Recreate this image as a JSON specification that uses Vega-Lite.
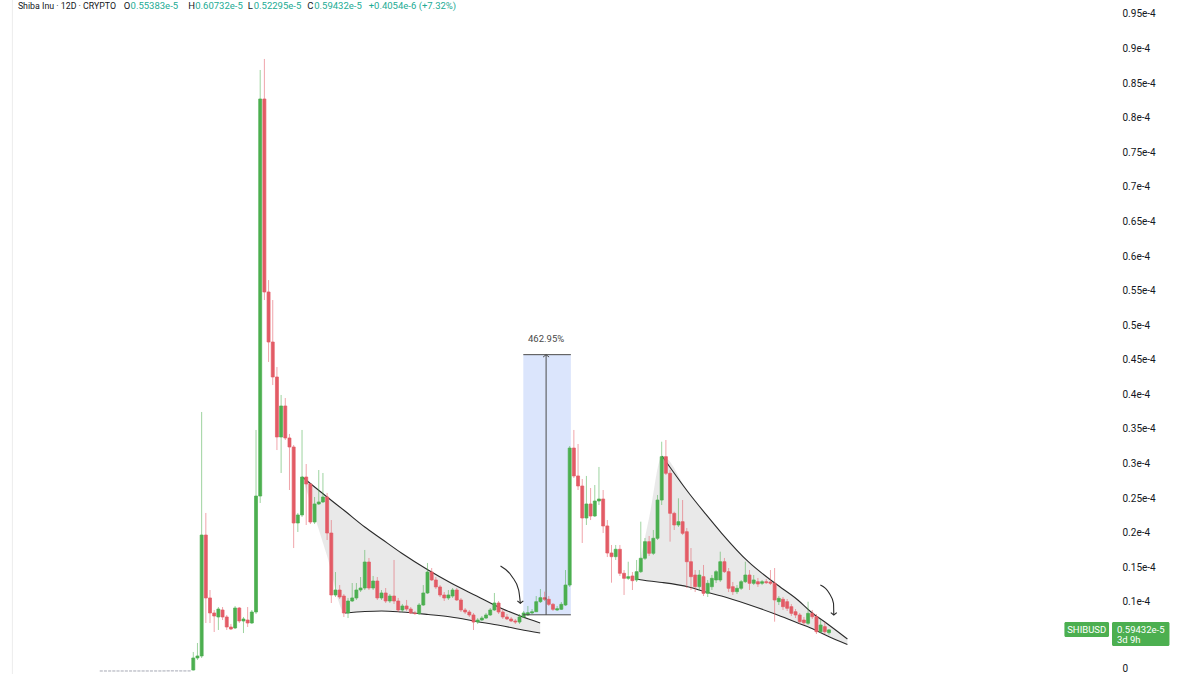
{
  "$schema": "https://vega.github.io/schema/vega-lite/v6.json",
  "width": 1115,
  "height": 674,
  "autosize": {"type": "none"},
  "padding": {"left": 0, "top": 0, "right": 85, "bottom": 0},
  "background": "#ffffff",
  "config": {"view": {"stroke": null}, "font": "Roboto", "axis": {"labelOverlap": false}},
  "data": {"values": [{}]},
  "datasets": {
    "candles": [
      {"n":-22,"o":0.0001e-5,"h":0.0002e-5,"l":0.0001e-5,"c":0.0001e-5},
      {"n":-21,"o":0.0001e-5,"h":0.0002e-5,"l":0.0001e-5,"c":0.0002e-5},
      {"n":-20,"o":0.0002e-5,"h":0.0003e-5,"l":0.0001e-5,"c":0.0002e-5},
      {"n":-19,"o":0.0002e-5,"h":0.0002e-5,"l":0.0001e-5,"c":0.0001e-5},
      {"n":-18,"o":0.0001e-5,"h":0.0002e-5,"l":0.0001e-5,"c":0.0001e-5},
      {"n":-17,"o":0.0001e-5,"h":0.0002e-5,"l":0.0001e-5,"c":0.0001e-5},
      {"n":-16,"o":0.0001e-5,"h":0.0002e-5,"l":0.0001e-5,"c":0.0002e-5},
      {"n":-15,"o":0.0002e-5,"h":0.0003e-5,"l":0.0002e-5,"c":0.0002e-5},
      {"n":-14,"o":0.0002e-5,"h":0.0003e-5,"l":0.0002e-5,"c":0.0003e-5},
      {"n":-13,"o":0.0003e-5,"h":0.0004e-5,"l":0.0002e-5,"c":0.0003e-5},
      {"n":-12,"o":0.0003e-5,"h":0.0003e-5,"l":0.0002e-5,"c":0.0002e-5},
      {"n":-11,"o":0.0002e-5,"h":0.0003e-5,"l":0.0002e-5,"c":0.0003e-5},
      {"n":-10,"o":0.0003e-5,"h":0.0004e-5,"l":0.0003e-5,"c":0.0004e-5},
      {"n":-9,"o":0.0004e-5,"h":0.0005e-5,"l":0.0003e-5,"c":0.0004e-5},
      {"n":-8,"o":0.0004e-5,"h":0.0005e-5,"l":0.0004e-5,"c":0.0005e-5},
      {"n":-7,"o":0.0005e-5,"h":0.0012e-5,"l":0.0005e-5,"c":0.0009e-5},
      {"n":-6,"o":0.0009e-5,"h":0.0035e-5,"l":0.0008e-5,"c":0.0024e-5},
      {"n":-5,"o":0.0024e-5,"h":0.0030e-5,"l":0.0015e-5,"c":0.0018e-5},
      {"n":-4,"o":0.0018e-5,"h":0.0022e-5,"l":0.0012e-5,"c":0.0014e-5},
      {"n":-3,"o":0.0014e-5,"h":0.0016e-5,"l":0.0010e-5,"c":0.0011e-5},
      {"n":-2,"o":0.0011e-5,"h":0.0013e-5,"l":0.0009e-5,"c":0.0012e-5},
      {"n":-1,"o":0.0012e-5,"h":0.0016e-5,"l":0.0011e-5,"c":0.0014e-5},
      {"n":0,"o":0.014e-5,"h":0.275e-5,"l":0.007e-5,"c":0.188e-5},
      {"n":1,"o":0.188e-5,"h":0.405e-5,"l":0.159e-5,"c":0.217e-5},
      {"n":2,"o":0.217e-5,"h":3.745e-5,"l":0.188e-5,"c":1.966e-5},
      {"n":3,"o":1.966e-5,"h":2.285e-5,"l":0.694e-5,"c":1.056e-5},
      {"n":4,"o":1.056e-5,"h":1.171e-5,"l":0.694e-5,"c":0.839e-5},
      {"n":5,"o":0.839e-5,"h":0.882e-5,"l":0.564e-5,"c":0.795e-5},
      {"n":6,"o":0.781e-5,"h":0.925e-5,"l":0.593e-5,"c":0.896e-5},
      {"n":7,"o":0.882e-5,"h":0.925e-5,"l":0.737e-5,"c":0.781e-5},
      {"n":8,"o":0.781e-5,"h":0.810e-5,"l":0.593e-5,"c":0.636e-5},
      {"n":9,"o":0.636e-5,"h":0.680e-5,"l":0.593e-5,"c":0.607e-5},
      {"n":10,"o":0.622e-5,"h":0.940e-5,"l":0.607e-5,"c":0.911e-5},
      {"n":11,"o":0.911e-5,"h":0.925e-5,"l":0.694e-5,"c":0.723e-5},
      {"n":12,"o":0.723e-5,"h":0.781e-5,"l":0.549e-5,"c":0.752e-5},
      {"n":13,"o":0.737e-5,"h":0.925e-5,"l":0.636e-5,"c":0.694e-5},
      {"n":14,"o":0.694e-5,"h":0.882e-5,"l":0.680e-5,"c":0.853e-5},
      {"n":15,"o":0.853e-5,"h":3.485e-5,"l":0.824e-5,"c":2.530e-5},
      {"n":16,"o":2.530e-5,"h":8.690e-5,"l":2.429e-5,"c":8.271e-5},
      {"n":17,"o":8.271e-5,"h":8.849e-5,"l":5.364e-5,"c":5.480e-5},
      {"n":18,"o":5.480e-5,"h":5.653e-5,"l":4.468e-5,"c":4.757e-5},
      {"n":19,"o":4.757e-5,"h":5.364e-5,"l":4.135e-5,"c":4.251e-5},
      {"n":20,"o":4.251e-5,"h":4.395e-5,"l":3.195e-5,"c":3.383e-5},
      {"n":21,"o":3.383e-5,"h":3.991e-5,"l":2.863e-5,"c":3.832e-5},
      {"n":22,"o":3.832e-5,"h":3.947e-5,"l":3.340e-5,"c":3.369e-5},
      {"n":23,"o":3.369e-5,"h":3.427e-5,"l":2.617e-5,"c":3.239e-5},
      {"n":24,"o":3.239e-5,"h":3.268e-5,"l":1.778e-5,"c":2.140e-5},
      {"n":25,"o":2.140e-5,"h":2.285e-5,"l":2.010e-5,"c":2.256e-5},
      {"n":26,"o":2.256e-5,"h":3.485e-5,"l":2.227e-5,"c":2.805e-5},
      {"n":27,"o":2.805e-5,"h":2.993e-5,"l":2.111e-5,"c":2.704e-5},
      {"n":28,"o":2.704e-5,"h":2.718e-5,"l":2.125e-5,"c":2.154e-5},
      {"n":29,"o":2.154e-5,"h":2.516e-5,"l":2.125e-5,"c":2.415e-5},
      {"n":30,"o":2.415e-5,"h":2.906e-5,"l":2.400e-5,"c":2.444e-5},
      {"n":31,"o":2.444e-5,"h":2.863e-5,"l":2.429e-5,"c":2.516e-5},
      {"n":32,"o":2.516e-5,"h":2.574e-5,"l":1.894e-5,"c":1.995e-5},
      {"n":33,"o":1.995e-5,"h":2.183e-5,"l":0.983e-5,"c":1.099e-5},
      {"n":34,"o":1.099e-5,"h":1.431e-5,"l":1.070e-5,"c":1.171e-5},
      {"n":35,"o":1.171e-5,"h":1.243e-5,"l":1.041e-5,"c":1.070e-5},
      {"n":36,"o":1.084e-5,"h":1.113e-5,"l":0.781e-5,"c":0.839e-5},
      {"n":37,"o":0.839e-5,"h":1.056e-5,"l":0.766e-5,"c":1.012e-5},
      {"n":38,"o":1.012e-5,"h":1.272e-5,"l":0.998e-5,"c":1.056e-5},
      {"n":39,"o":1.056e-5,"h":1.272e-5,"l":1.027e-5,"c":1.171e-5},
      {"n":40,"o":1.171e-5,"h":1.359e-5,"l":1.142e-5,"c":1.200e-5},
      {"n":41,"o":1.200e-5,"h":1.750e-5,"l":1.171e-5,"c":1.576e-5},
      {"n":42,"o":1.576e-5,"h":1.634e-5,"l":1.171e-5,"c":1.200e-5},
      {"n":43,"o":1.200e-5,"h":1.374e-5,"l":1.171e-5,"c":1.301e-5},
      {"n":44,"o":1.301e-5,"h":1.359e-5,"l":1.027e-5,"c":1.056e-5},
      {"n":45,"o":1.056e-5,"h":1.171e-5,"l":1.027e-5,"c":1.128e-5},
      {"n":46,"o":1.128e-5,"h":1.200e-5,"l":0.983e-5,"c":1.012e-5},
      {"n":47,"o":1.012e-5,"h":1.113e-5,"l":0.983e-5,"c":1.084e-5},
      {"n":48,"o":1.084e-5,"h":1.605e-5,"l":0.969e-5,"c":1.012e-5},
      {"n":49,"o":1.012e-5,"h":1.056e-5,"l":0.853e-5,"c":0.882e-5},
      {"n":50,"o":0.882e-5,"h":0.969e-5,"l":0.853e-5,"c":0.940e-5},
      {"n":51,"o":0.940e-5,"h":1.027e-5,"l":0.868e-5,"c":0.896e-5},
      {"n":52,"o":0.896e-5,"h":0.925e-5,"l":0.824e-5,"c":0.839e-5},
      {"n":53,"o":0.839e-5,"h":0.868e-5,"l":0.810e-5,"c":0.831e-5},
      {"n":54,"o":0.831e-5,"h":0.983e-5,"l":0.810e-5,"c":0.954e-5},
      {"n":55,"o":0.954e-5,"h":1.243e-5,"l":0.940e-5,"c":1.128e-5},
      {"n":56,"o":1.128e-5,"h":1.562e-5,"l":1.113e-5,"c":1.431e-5},
      {"n":57,"o":1.431e-5,"h":1.489e-5,"l":1.301e-5,"c":1.316e-5},
      {"n":58,"o":1.316e-5,"h":1.359e-5,"l":1.186e-5,"c":1.215e-5},
      {"n":59,"o":1.215e-5,"h":1.243e-5,"l":1.070e-5,"c":1.099e-5},
      {"n":60,"o":1.099e-5,"h":1.142e-5,"l":1.012e-5,"c":1.056e-5},
      {"n":61,"o":1.056e-5,"h":1.171e-5,"l":1.027e-5,"c":1.099e-5},
      {"n":62,"o":1.084e-5,"h":1.200e-5,"l":1.056e-5,"c":1.171e-5},
      {"n":63,"o":1.171e-5,"h":1.200e-5,"l":1.012e-5,"c":1.027e-5},
      {"n":64,"o":1.027e-5,"h":1.056e-5,"l":0.853e-5,"c":0.882e-5},
      {"n":65,"o":0.882e-5,"h":0.911e-5,"l":0.824e-5,"c":0.853e-5},
      {"n":66,"o":0.853e-5,"h":0.882e-5,"l":0.781e-5,"c":0.810e-5},
      {"n":67,"o":0.810e-5,"h":0.839e-5,"l":0.593e-5,"c":0.708e-5},
      {"n":68,"o":0.708e-5,"h":0.766e-5,"l":0.680e-5,"c":0.737e-5},
      {"n":69,"o":0.737e-5,"h":0.795e-5,"l":0.723e-5,"c":0.766e-5},
      {"n":70,"o":0.766e-5,"h":0.839e-5,"l":0.752e-5,"c":0.810e-5},
      {"n":71,"o":0.810e-5,"h":0.911e-5,"l":0.795e-5,"c":0.882e-5},
      {"n":72,"o":0.882e-5,"h":1.128e-5,"l":0.868e-5,"c":0.983e-5},
      {"n":73,"o":0.983e-5,"h":1.012e-5,"l":0.824e-5,"c":0.853e-5},
      {"n":74,"o":0.853e-5,"h":0.896e-5,"l":0.752e-5,"c":0.781e-5},
      {"n":75,"o":0.781e-5,"h":0.824e-5,"l":0.737e-5,"c":0.752e-5},
      {"n":76,"o":0.752e-5,"h":0.781e-5,"l":0.708e-5,"c":0.723e-5},
      {"n":77,"o":0.723e-5,"h":0.752e-5,"l":0.680e-5,"c":0.708e-5},
      {"n":78,"o":0.708e-5,"h":0.824e-5,"l":0.680e-5,"c":0.781e-5},
      {"n":79,"o":0.781e-5,"h":0.868e-5,"l":0.766e-5,"c":0.839e-5},
      {"n":80,"o":0.810e-5,"h":0.940e-5,"l":0.795e-5,"c":0.843e-5},
      {"n":81,"o":0.839e-5,"h":0.896e-5,"l":0.824e-5,"c":0.857e-5},
      {"n":82,"o":0.857e-5,"h":1.084e-5,"l":0.853e-5,"c":1.002e-5},
      {"n":83,"o":1.002e-5,"h":1.186e-5,"l":0.983e-5,"c":1.060e-5},
      {"n":84,"o":1.060e-5,"h":1.147e-5,"l":1.012e-5,"c":1.037e-5},
      {"n":85,"o":1.037e-5,"h":1.084e-5,"l":0.940e-5,"c":0.964e-5},
      {"n":86,"o":0.964e-5,"h":0.983e-5,"l":0.868e-5,"c":0.892e-5},
      {"n":87,"o":0.882e-5,"h":0.940e-5,"l":0.868e-5,"c":0.901e-5},
      {"n":88,"o":0.892e-5,"h":0.998e-5,"l":0.882e-5,"c":0.964e-5},
      {"n":89,"o":0.954e-5,"h":1.460e-5,"l":0.940e-5,"c":1.243e-5},
      {"n":90,"o":1.243e-5,"h":3.253e-5,"l":1.215e-5,"c":3.224e-5},
      {"n":91,"o":3.224e-5,"h":3.485e-5,"l":2.791e-5,"c":2.820e-5},
      {"n":92,"o":2.820e-5,"h":3.282e-5,"l":2.617e-5,"c":2.675e-5},
      {"n":93,"o":2.675e-5,"h":2.776e-5,"l":1.851e-5,"c":2.212e-5},
      {"n":94,"o":2.212e-5,"h":2.820e-5,"l":2.111e-5,"c":2.415e-5},
      {"n":95,"o":2.415e-5,"h":2.646e-5,"l":2.183e-5,"c":2.241e-5},
      {"n":96,"o":2.241e-5,"h":2.689e-5,"l":2.227e-5,"c":2.458e-5},
      {"n":97,"o":2.458e-5,"h":2.950e-5,"l":2.400e-5,"c":2.487e-5},
      {"n":98,"o":2.487e-5,"h":2.617e-5,"l":1.995e-5,"c":2.097e-5},
      {"n":99,"o":2.097e-5,"h":2.183e-5,"l":1.648e-5,"c":1.706e-5},
      {"n":100,"o":1.706e-5,"h":1.822e-5,"l":1.277e-5,"c":1.653e-5},
      {"n":101,"o":1.653e-5,"h":1.822e-5,"l":1.605e-5,"c":1.760e-5},
      {"n":102,"o":1.760e-5,"h":1.822e-5,"l":1.374e-5,"c":1.413e-5},
      {"n":103,"o":1.413e-5,"h":1.460e-5,"l":1.099e-5,"c":1.340e-5},
      {"n":104,"o":1.340e-5,"h":1.580e-5,"l":1.316e-5,"c":1.364e-5},
      {"n":105,"o":1.374e-5,"h":1.431e-5,"l":1.171e-5,"c":1.306e-5},
      {"n":106,"o":1.316e-5,"h":1.605e-5,"l":1.287e-5,"c":1.436e-5},
      {"n":107,"o":1.436e-5,"h":2.159e-5,"l":1.417e-5,"c":1.630e-5},
      {"n":108,"o":1.630e-5,"h":1.923e-5,"l":1.605e-5,"c":1.870e-5},
      {"n":109,"o":1.870e-5,"h":1.952e-5,"l":1.663e-5,"c":1.702e-5},
      {"n":110,"o":1.702e-5,"h":2.039e-5,"l":1.677e-5,"c":1.919e-5},
      {"n":111,"o":1.919e-5,"h":2.545e-5,"l":1.894e-5,"c":2.472e-5},
      {"n":112,"o":2.472e-5,"h":3.315e-5,"l":2.400e-5,"c":3.099e-5},
      {"n":113,"o":3.099e-5,"h":3.340e-5,"l":2.834e-5,"c":2.859e-5},
      {"n":114,"o":2.859e-5,"h":2.906e-5,"l":1.870e-5,"c":2.280e-5},
      {"n":115,"o":2.280e-5,"h":2.303e-5,"l":2.039e-5,"c":2.111e-5},
      {"n":116,"o":2.111e-5,"h":2.497e-5,"l":2.082e-5,"c":2.159e-5},
      {"n":117,"o":2.159e-5,"h":2.472e-5,"l":1.966e-5,"c":1.991e-5},
      {"n":118,"o":2.014e-5,"h":2.068e-5,"l":1.200e-5,"c":1.580e-5},
      {"n":119,"o":1.580e-5,"h":1.778e-5,"l":1.171e-5,"c":1.364e-5},
      {"n":120,"o":1.388e-5,"h":1.460e-5,"l":1.142e-5,"c":1.219e-5},
      {"n":121,"o":1.219e-5,"h":1.460e-5,"l":1.171e-5,"c":1.388e-5},
      {"n":122,"o":1.364e-5,"h":1.533e-5,"l":1.084e-5,"c":1.123e-5},
      {"n":123,"o":1.123e-5,"h":1.316e-5,"l":1.070e-5,"c":1.268e-5},
      {"n":124,"o":1.219e-5,"h":1.388e-5,"l":1.171e-5,"c":1.340e-5},
      {"n":125,"o":1.316e-5,"h":1.460e-5,"l":1.272e-5,"c":1.436e-5},
      {"n":126,"o":1.316e-5,"h":1.725e-5,"l":1.287e-5,"c":1.580e-5},
      {"n":127,"o":1.580e-5,"h":1.634e-5,"l":1.417e-5,"c":1.436e-5},
      {"n":128,"o":1.436e-5,"h":1.489e-5,"l":1.142e-5,"c":1.196e-5},
      {"n":129,"o":1.219e-5,"h":1.287e-5,"l":1.099e-5,"c":1.147e-5},
      {"n":130,"o":1.147e-5,"h":1.243e-5,"l":1.113e-5,"c":1.196e-5},
      {"n":131,"o":1.196e-5,"h":1.316e-5,"l":1.171e-5,"c":1.291e-5},
      {"n":132,"o":1.291e-5,"h":1.580e-5,"l":1.272e-5,"c":1.388e-5},
      {"n":133,"o":1.388e-5,"h":1.460e-5,"l":1.171e-5,"c":1.268e-5},
      {"n":134,"o":1.268e-5,"h":1.388e-5,"l":1.243e-5,"c":1.316e-5},
      {"n":135,"o":1.291e-5,"h":1.345e-5,"l":1.215e-5,"c":1.258e-5},
      {"n":136,"o":1.268e-5,"h":1.316e-5,"l":1.243e-5,"c":1.291e-5},
      {"n":137,"o":1.291e-5,"h":1.330e-5,"l":1.258e-5,"c":1.277e-5},
      {"n":138,"o":1.287e-5,"h":1.460e-5,"l":1.243e-5,"c":1.268e-5},
      {"n":139,"o":1.268e-5,"h":1.489e-5,"l":0.713e-5,"c":1.027e-5},
      {"n":140,"o":1.002e-5,"h":1.084e-5,"l":0.954e-5,"c":1.051e-5},
      {"n":141,"o":1.037e-5,"h":1.070e-5,"l":0.882e-5,"c":0.930e-5},
      {"n":142,"o":1.002e-5,"h":1.041e-5,"l":0.868e-5,"c":0.907e-5},
      {"n":143,"o":0.930e-5,"h":0.969e-5,"l":0.795e-5,"c":0.834e-5},
      {"n":144,"o":0.857e-5,"h":0.896e-5,"l":0.766e-5,"c":0.810e-5},
      {"n":145,"o":0.810e-5,"h":0.839e-5,"l":0.680e-5,"c":0.713e-5},
      {"n":146,"o":0.737e-5,"h":0.781e-5,"l":0.665e-5,"c":0.698e-5},
      {"n":147,"o":0.690e-5,"h":1.002e-5,"l":0.665e-5,"c":0.834e-5},
      {"n":148,"o":0.834e-5,"h":0.882e-5,"l":0.752e-5,"c":0.785e-5},
      {"n":149,"o":0.785e-5,"h":0.824e-5,"l":0.535e-5,"c":0.568e-5},
      {"n":150,"o":0.568e-5,"h":0.737e-5,"l":0.549e-5,"c":0.665e-5},
      {"n":151,"o":0.641e-5,"h":0.708e-5,"l":0.535e-5,"c":0.568e-5},
      {"n":152,"o":0.55383e-5,"h":0.60732e-5,"l":0.52295e-5,"c":0.59432e-5}
    ],
    "wedgeFill": [
      {"wedge":1,"n":26.07,"top":2.805e-5,"bottom":2.805e-5},
      {"wedge":1,"n":31.99,"top":2.516e-5,"bottom":1.663e-5},
      {"wedge":1,"n":36.26,"top":2.313e-5,"bottom":0.839e-5},
      {"wedge":1,"n":41.0,"top":2.082e-5,"bottom":0.860e-5},
      {"wedge":1,"n":45.02,"top":1.909e-5,"bottom":0.868e-5},
      {"wedge":1,"n":49.76,"top":1.706e-5,"bottom":0.853e-5},
      {"wedge":1,"n":56.16,"top":1.460e-5,"bottom":0.817e-5},
      {"wedge":1,"n":61.61,"top":1.272e-5,"bottom":0.781e-5},
      {"wedge":1,"n":67.77,"top":1.084e-5,"bottom":0.716e-5},
      {"wedge":1,"n":73.46,"top":0.911e-5,"bottom":0.658e-5},
      {"wedge":1,"n":78.2,"top":0.795e-5,"bottom":0.600e-5},
      {"wedge":1,"n":82.94,"top":0.694e-5,"bottom":0.549e-5},
      {"wedge":2,"n":105.92,"top":1.330e-5,"bottom":1.330e-5},
      {"wedge":2,"n":109.0,"top":2.219e-5,"bottom":1.301e-5},
      {"wedge":2,"n":112.09,"top":3.109e-5,"bottom":1.280e-5},
      {"wedge":2,"n":118.48,"top":2.574e-5,"bottom":1.215e-5},
      {"wedge":2,"n":122.51,"top":2.270e-5,"bottom":1.142e-5},
      {"wedge":2,"n":126.30,"top":1.995e-5,"bottom":1.084e-5},
      {"wedge":2,"n":132.70,"top":1.580e-5,"bottom":0.962e-5},
      {"wedge":2,"n":139.10,"top":1.268e-5,"bottom":0.824e-5},
      {"wedge":2,"n":144.55,"top":1.027e-5,"bottom":0.694e-5},
      {"wedge":2,"n":147.63,"top":0.857e-5,"bottom":0.622e-5},
      {"wedge":2,"n":151.66,"top":0.680e-5,"bottom":0.506e-5},
      {"wedge":2,"n":156.40,"top":0.463e-5,"bottom":0.383e-5}
    ],
    "wedgeLines": [
      {"line":"1-upper","n":26.07,"p":2.805e-5},
      {"line":"1-upper","n":31.99,"p":2.516e-5},
      {"line":"1-upper","n":36.26,"p":2.313e-5},
      {"line":"1-upper","n":41.0,"p":2.082e-5},
      {"line":"1-upper","n":45.02,"p":1.909e-5},
      {"line":"1-upper","n":49.76,"p":1.706e-5},
      {"line":"1-upper","n":56.16,"p":1.460e-5},
      {"line":"1-upper","n":61.61,"p":1.272e-5},
      {"line":"1-upper","n":67.77,"p":1.084e-5},
      {"line":"1-upper","n":73.46,"p":0.911e-5},
      {"line":"1-upper","n":78.2,"p":0.795e-5},
      {"line":"1-upper","n":82.94,"p":0.694e-5},
      {"line":"1-lower","n":36.26,"p":0.839e-5},
      {"line":"1-lower","n":41.0,"p":0.860e-5},
      {"line":"1-lower","n":45.02,"p":0.868e-5},
      {"line":"1-lower","n":49.76,"p":0.853e-5},
      {"line":"1-lower","n":56.16,"p":0.817e-5},
      {"line":"1-lower","n":61.61,"p":0.781e-5},
      {"line":"1-lower","n":67.77,"p":0.716e-5},
      {"line":"1-lower","n":73.46,"p":0.658e-5},
      {"line":"1-lower","n":78.2,"p":0.600e-5},
      {"line":"1-lower","n":82.94,"p":0.549e-5},
      {"line":"2-upper","n":112.09,"p":3.109e-5},
      {"line":"2-upper","n":118.48,"p":2.574e-5},
      {"line":"2-upper","n":122.51,"p":2.270e-5},
      {"line":"2-upper","n":126.30,"p":1.995e-5},
      {"line":"2-upper","n":132.70,"p":1.580e-5},
      {"line":"2-upper","n":139.10,"p":1.268e-5},
      {"line":"2-upper","n":144.55,"p":1.027e-5},
      {"line":"2-upper","n":147.63,"p":0.857e-5},
      {"line":"2-upper","n":151.66,"p":0.680e-5},
      {"line":"2-upper","n":156.40,"p":0.463e-5},
      {"line":"2-lower","n":105.92,"p":1.330e-5},
      {"line":"2-lower","n":109.0,"p":1.301e-5},
      {"line":"2-lower","n":112.09,"p":1.280e-5},
      {"line":"2-lower","n":118.48,"p":1.215e-5},
      {"line":"2-lower","n":122.51,"p":1.142e-5},
      {"line":"2-lower","n":126.30,"p":1.084e-5},
      {"line":"2-lower","n":132.70,"p":0.962e-5},
      {"line":"2-lower","n":139.10,"p":0.824e-5},
      {"line":"2-lower","n":144.55,"p":0.694e-5},
      {"line":"2-lower","n":147.63,"p":0.622e-5},
      {"line":"2-lower","n":151.66,"p":0.506e-5},
      {"line":"2-lower","n":156.40,"p":0.383e-5}
    ],
    "arrows": [
      {"arrow":1,"n":73.46,"p":1.518e-5},
      {"arrow":1,"n":76.23,"p":1.364e-5},
      {"arrow":1,"n":77.80,"p":1.171e-5},
      {"arrow":1,"n":78.20,"p":0.979e-5},
      {"arrow":2,"n":149.93,"p":1.243e-5},
      {"arrow":2,"n":152.06,"p":1.123e-5},
      {"arrow":2,"n":153.08,"p":0.979e-5},
      {"arrow":2,"n":153.15,"p":0.810e-5}
    ]
  },
  "layer": [
    {
      "mark": {"type": "rule", "color": "#ececec", "strokeWidth": 1},
      "encoding": {
        "x": {"datum": -43.25, "type": "quantitative", "scale": {"domain": [-45.02, 219.19], "nice": false, "zero": false}, "axis": null},
        "y": {"datum": -0.0434e-5, "type": "quantitative", "scale": {"domain": [-0.0434e-5, 9.702e-5], "nice": false, "zero": false}, "axis": {"orient": "right", "title": null, "domain": false, "ticks": false, "grid": false, "labelPadding": 7, "labelFontSize": 10, "labelColor": "#131722", "labelFont": "Roboto", "values": [0, 1e-5, 1.5e-5, 2e-5, 2.5e-5, 3e-5, 3.5e-5, 4e-5, 4.5e-5, 5e-5, 5.5e-5, 6e-5, 6.5e-5, 7e-5, 7.5e-5, 8e-5, 8.5e-5, 9e-5, 9.5e-5], "labelExpr": "datum.value == 0 ? '0' : format(datum.value * 10000, '.2~f') + 'e-4'", "labelAlign": "left", "labelBaseline": "middle", "labelOffset": {"condition": {"test": "datum.value == 0", "value": -2.5}, "value": 0}, "labelBound": false, "labelOverlap": false}},
        "y2": {"datum": 9.702e-5}
      }
    },
    {
      "data": {"name": "wedgeFill"},
      "mark": {"type": "area", "color": "#e4e4e4", "opacity": 0.8, "interpolate": "monotone"},
      "encoding": {
        "x": {"field": "n", "type": "quantitative", "scale": {"domain": [-45.02, 219.19], "nice": false, "zero": false}, "axis": null},
        "y": {"field": "top", "type": "quantitative", "scale": {"domain": [-0.0434e-5, 9.702e-5], "nice": false, "zero": false}, "axis": {"orient": "right", "title": null, "domain": false, "ticks": false, "grid": false, "labelPadding": 7, "labelFontSize": 10, "labelColor": "#131722", "labelFont": "Roboto", "values": [0, 1e-5, 1.5e-5, 2e-5, 2.5e-5, 3e-5, 3.5e-5, 4e-5, 4.5e-5, 5e-5, 5.5e-5, 6e-5, 6.5e-5, 7e-5, 7.5e-5, 8e-5, 8.5e-5, 9e-5, 9.5e-5], "labelExpr": "datum.value == 0 ? '0' : format(datum.value * 10000, '.2~f') + 'e-4'", "labelAlign": "left", "labelBaseline": "middle", "labelOffset": {"condition": {"test": "datum.value == 0", "value": -2.5}, "value": 0}, "labelBound": false, "labelOverlap": false}},
        "y2": {"field": "bottom"},
        "detail": {"field": "wedge"}
      }
    },
    {
      "mark": {"type": "rect", "color": "#dbe5fc"},
      "encoding": {
        "x": {"datum": 78.91, "type": "quantitative", "scale": {"domain": [-45.02, 219.19], "nice": false, "zero": false}, "axis": null},
        "x2": {"datum": 90.28},
        "y": {"datum": 4.5738e-5, "type": "quantitative", "scale": {"domain": [-0.0434e-5, 9.702e-5], "nice": false, "zero": false}, "axis": {"orient": "right", "title": null, "domain": false, "ticks": false, "grid": false, "labelPadding": 7, "labelFontSize": 10, "labelColor": "#131722", "labelFont": "Roboto", "values": [0, 1e-5, 1.5e-5, 2e-5, 2.5e-5, 3e-5, 3.5e-5, 4e-5, 4.5e-5, 5e-5, 5.5e-5, 6e-5, 6.5e-5, 7e-5, 7.5e-5, 8e-5, 8.5e-5, 9e-5, 9.5e-5], "labelExpr": "datum.value == 0 ? '0' : format(datum.value * 10000, '.2~f') + 'e-4'", "labelAlign": "left", "labelBaseline": "middle", "labelOffset": {"condition": {"test": "datum.value == 0", "value": -2.5}, "value": 0}, "labelBound": false, "labelOverlap": false}},
        "y2": {"datum": 0.8125e-5}
      }
    },
    {
      "data": {"name": "wedgeLines"},
      "mark": {"type": "line", "color": "#2a2a2a", "strokeWidth": 1.1, "interpolate": "monotone"},
      "encoding": {
        "x": {"field": "n", "type": "quantitative", "scale": {"domain": [-45.02, 219.19], "nice": false, "zero": false}, "axis": null},
        "y": {"field": "p", "type": "quantitative", "scale": {"domain": [-0.0434e-5, 9.702e-5], "nice": false, "zero": false}, "axis": {"orient": "right", "title": null, "domain": false, "ticks": false, "grid": false, "labelPadding": 7, "labelFontSize": 10, "labelColor": "#131722", "labelFont": "Roboto", "values": [0, 1e-5, 1.5e-5, 2e-5, 2.5e-5, 3e-5, 3.5e-5, 4e-5, 4.5e-5, 5e-5, 5.5e-5, 6e-5, 6.5e-5, 7e-5, 7.5e-5, 8e-5, 8.5e-5, 9e-5, 9.5e-5], "labelExpr": "datum.value == 0 ? '0' : format(datum.value * 10000, '.2~f') + 'e-4'", "labelAlign": "left", "labelBaseline": "middle", "labelOffset": {"condition": {"test": "datum.value == 0", "value": -2.5}, "value": 0}, "labelBound": false, "labelOverlap": false}},
        "detail": {"field": "line"}
      }
    },
    {
      "data": {"name": "candles"},
      "mark": {"type": "rule", "strokeWidth": 1, "opacity": 0.55},
      "encoding": {
        "x": {"field": "n", "type": "quantitative", "scale": {"domain": [-45.02, 219.19], "nice": false, "zero": false}, "axis": null},
        "y": {"field": "l", "type": "quantitative", "scale": {"domain": [-0.0434e-5, 9.702e-5], "nice": false, "zero": false}, "axis": {"orient": "right", "title": null, "domain": false, "ticks": false, "grid": false, "labelPadding": 7, "labelFontSize": 10, "labelColor": "#131722", "labelFont": "Roboto", "values": [0, 1e-5, 1.5e-5, 2e-5, 2.5e-5, 3e-5, 3.5e-5, 4e-5, 4.5e-5, 5e-5, 5.5e-5, 6e-5, 6.5e-5, 7e-5, 7.5e-5, 8e-5, 8.5e-5, 9e-5, 9.5e-5], "labelExpr": "datum.value == 0 ? '0' : format(datum.value * 10000, '.2~f') + 'e-4'", "labelAlign": "left", "labelBaseline": "middle", "labelOffset": {"condition": {"test": "datum.value == 0", "value": -2.5}, "value": 0}, "labelBound": false, "labelOverlap": false}},
        "y2": {"field": "h"},
        "color": {"condition": [{"test": "datum.h < 1e-7", "value": "#b2b5be"}, {"test": "datum.c >= datum.o", "value": "#4caf50"}], "value": "#e35b66"}
      }
    },
    {
      "data": {"name": "candles"},
      "mark": {"type": "bar", "size": 3, "strokeWidth": 0.7},
      "encoding": {
        "x": {"field": "n", "type": "quantitative", "scale": {"domain": [-45.02, 219.19], "nice": false, "zero": false}, "axis": null},
        "y": {"field": "o", "type": "quantitative", "scale": {"domain": [-0.0434e-5, 9.702e-5], "nice": false, "zero": false}, "axis": {"orient": "right", "title": null, "domain": false, "ticks": false, "grid": false, "labelPadding": 7, "labelFontSize": 10, "labelColor": "#131722", "labelFont": "Roboto", "values": [0, 1e-5, 1.5e-5, 2e-5, 2.5e-5, 3e-5, 3.5e-5, 4e-5, 4.5e-5, 5e-5, 5.5e-5, 6e-5, 6.5e-5, 7e-5, 7.5e-5, 8e-5, 8.5e-5, 9e-5, 9.5e-5], "labelExpr": "datum.value == 0 ? '0' : format(datum.value * 10000, '.2~f') + 'e-4'", "labelAlign": "left", "labelBaseline": "middle", "labelOffset": {"condition": {"test": "datum.value == 0", "value": -2.5}, "value": 0}, "labelBound": false, "labelOverlap": false}},
        "y2": {"field": "c"},
        "fill": {"condition": [{"test": "datum.h < 1e-7", "value": "#b2b5be"}, {"test": "datum.c >= datum.o", "value": "#4caf50"}], "value": "#e35b66"},
        "stroke": {"condition": [{"test": "datum.h < 1e-7", "value": "#b2b5be"}, {"test": "datum.c >= datum.o", "value": "#4caf50"}], "value": "#e35b66"}
      }
    },
    {
      "mark": {"type": "rule", "color": "#4a4a4a", "strokeWidth": 1},
      "encoding": {
        "x": {"datum": 78.91, "type": "quantitative", "scale": {"domain": [-45.02, 219.19], "nice": false, "zero": false}, "axis": null},
        "x2": {"datum": 90.28},
        "y": {"datum": 4.5738e-5, "type": "quantitative", "scale": {"domain": [-0.0434e-5, 9.702e-5], "nice": false, "zero": false}, "axis": {"orient": "right", "title": null, "domain": false, "ticks": false, "grid": false, "labelPadding": 7, "labelFontSize": 10, "labelColor": "#131722", "labelFont": "Roboto", "values": [0, 1e-5, 1.5e-5, 2e-5, 2.5e-5, 3e-5, 3.5e-5, 4e-5, 4.5e-5, 5e-5, 5.5e-5, 6e-5, 6.5e-5, 7e-5, 7.5e-5, 8e-5, 8.5e-5, 9e-5, 9.5e-5], "labelExpr": "datum.value == 0 ? '0' : format(datum.value * 10000, '.2~f') + 'e-4'", "labelAlign": "left", "labelBaseline": "middle", "labelOffset": {"condition": {"test": "datum.value == 0", "value": -2.5}, "value": 0}, "labelBound": false, "labelOverlap": false}}
      }
    },
    {
      "mark": {"type": "rule", "color": "#4a4a4a", "strokeWidth": 1},
      "encoding": {
        "x": {"datum": 78.91, "type": "quantitative", "scale": {"domain": [-45.02, 219.19], "nice": false, "zero": false}, "axis": null},
        "x2": {"datum": 90.28},
        "y": {"datum": 0.8125e-5, "type": "quantitative", "scale": {"domain": [-0.0434e-5, 9.702e-5], "nice": false, "zero": false}, "axis": {"orient": "right", "title": null, "domain": false, "ticks": false, "grid": false, "labelPadding": 7, "labelFontSize": 10, "labelColor": "#131722", "labelFont": "Roboto", "values": [0, 1e-5, 1.5e-5, 2e-5, 2.5e-5, 3e-5, 3.5e-5, 4e-5, 4.5e-5, 5e-5, 5.5e-5, 6e-5, 6.5e-5, 7e-5, 7.5e-5, 8e-5, 8.5e-5, 9e-5, 9.5e-5], "labelExpr": "datum.value == 0 ? '0' : format(datum.value * 10000, '.2~f') + 'e-4'", "labelAlign": "left", "labelBaseline": "middle", "labelOffset": {"condition": {"test": "datum.value == 0", "value": -2.5}, "value": 0}, "labelBound": false, "labelOverlap": false}}
      }
    },
    {
      "mark": {"type": "rule", "color": "#4a4a4a", "strokeWidth": 1},
      "encoding": {
        "x": {"datum": 84.36, "type": "quantitative", "scale": {"domain": [-45.02, 219.19], "nice": false, "zero": false}, "axis": null},
        "y": {"datum": 0.8125e-5, "type": "quantitative", "scale": {"domain": [-0.0434e-5, 9.702e-5], "nice": false, "zero": false}, "axis": {"orient": "right", "title": null, "domain": false, "ticks": false, "grid": false, "labelPadding": 7, "labelFontSize": 10, "labelColor": "#131722", "labelFont": "Roboto", "values": [0, 1e-5, 1.5e-5, 2e-5, 2.5e-5, 3e-5, 3.5e-5, 4e-5, 4.5e-5, 5e-5, 5.5e-5, 6e-5, 6.5e-5, 7e-5, 7.5e-5, 8e-5, 8.5e-5, 9e-5, 9.5e-5], "labelExpr": "datum.value == 0 ? '0' : format(datum.value * 10000, '.2~f') + 'e-4'", "labelAlign": "left", "labelBaseline": "middle", "labelOffset": {"condition": {"test": "datum.value == 0", "value": -2.5}, "value": 0}, "labelBound": false, "labelOverlap": false}},
        "y2": {"datum": 4.5738e-5}
      }
    },
    {
      "mark": {"type": "point", "shape": "M -1 0.8 L 0 0 L 1 0.8", "size": 36, "filled": false, "stroke": "#4a4a4a", "strokeWidth": 1, "opacity": 1},
      "encoding": {
        "x": {"datum": 84.36, "type": "quantitative", "scale": {"domain": [-45.02, 219.19], "nice": false, "zero": false}, "axis": null},
        "y": {"datum": 4.5738e-5, "type": "quantitative", "scale": {"domain": [-0.0434e-5, 9.702e-5], "nice": false, "zero": false}, "axis": {"orient": "right", "title": null, "domain": false, "ticks": false, "grid": false, "labelPadding": 7, "labelFontSize": 10, "labelColor": "#131722", "labelFont": "Roboto", "values": [0, 1e-5, 1.5e-5, 2e-5, 2.5e-5, 3e-5, 3.5e-5, 4e-5, 4.5e-5, 5e-5, 5.5e-5, 6e-5, 6.5e-5, 7e-5, 7.5e-5, 8e-5, 8.5e-5, 9e-5, 9.5e-5], "labelExpr": "datum.value == 0 ? '0' : format(datum.value * 10000, '.2~f') + 'e-4'", "labelAlign": "left", "labelBaseline": "middle", "labelOffset": {"condition": {"test": "datum.value == 0", "value": -2.5}, "value": 0}, "labelBound": false, "labelOverlap": false}}
      }
    },
    {
      "mark": {"type": "text", "text": "462.95%", "fontSize": 9.5, "color": "#4a4a4a", "align": "center", "baseline": "middle", "font": "Roboto"},
      "encoding": {
        "x": {"datum": 84.36, "type": "quantitative", "scale": {"domain": [-45.02, 219.19], "nice": false, "zero": false}, "axis": null},
        "y": {"datum": 4.80e-5, "type": "quantitative", "scale": {"domain": [-0.0434e-5, 9.702e-5], "nice": false, "zero": false}, "axis": {"orient": "right", "title": null, "domain": false, "ticks": false, "grid": false, "labelPadding": 7, "labelFontSize": 10, "labelColor": "#131722", "labelFont": "Roboto", "values": [0, 1e-5, 1.5e-5, 2e-5, 2.5e-5, 3e-5, 3.5e-5, 4e-5, 4.5e-5, 5e-5, 5.5e-5, 6e-5, 6.5e-5, 7e-5, 7.5e-5, 8e-5, 8.5e-5, 9e-5, 9.5e-5], "labelExpr": "datum.value == 0 ? '0' : format(datum.value * 10000, '.2~f') + 'e-4'", "labelAlign": "left", "labelBaseline": "middle", "labelOffset": {"condition": {"test": "datum.value == 0", "value": -2.5}, "value": 0}, "labelBound": false, "labelOverlap": false}}
      }
    },
    {
      "data": {"name": "arrows"},
      "mark": {"type": "line", "color": "#2a2a2a", "strokeWidth": 1.1, "interpolate": "monotone"},
      "encoding": {
        "x": {"field": "n", "type": "quantitative", "scale": {"domain": [-45.02, 219.19], "nice": false, "zero": false}, "axis": null},
        "y": {"field": "p", "type": "quantitative", "scale": {"domain": [-0.0434e-5, 9.702e-5], "nice": false, "zero": false}, "axis": {"orient": "right", "title": null, "domain": false, "ticks": false, "grid": false, "labelPadding": 7, "labelFontSize": 10, "labelColor": "#131722", "labelFont": "Roboto", "values": [0, 1e-5, 1.5e-5, 2e-5, 2.5e-5, 3e-5, 3.5e-5, 4e-5, 4.5e-5, 5e-5, 5.5e-5, 6e-5, 6.5e-5, 7e-5, 7.5e-5, 8e-5, 8.5e-5, 9e-5, 9.5e-5], "labelExpr": "datum.value == 0 ? '0' : format(datum.value * 10000, '.2~f') + 'e-4'", "labelAlign": "left", "labelBaseline": "middle", "labelOffset": {"condition": {"test": "datum.value == 0", "value": -2.5}, "value": 0}, "labelBound": false, "labelOverlap": false}},
        "detail": {"field": "arrow"}
      }
    },
    {
      "mark": {"type": "point", "shape": "M -1 -0.8 L 0 0 L 1 -0.8", "size": 36, "filled": false, "stroke": "#2a2a2a", "strokeWidth": 1.1, "opacity": 1},
      "encoding": {
        "x": {"datum": 78.2, "type": "quantitative", "scale": {"domain": [-45.02, 219.19], "nice": false, "zero": false}, "axis": null},
        "y": {"datum": 0.979e-5, "type": "quantitative", "scale": {"domain": [-0.0434e-5, 9.702e-5], "nice": false, "zero": false}, "axis": {"orient": "right", "title": null, "domain": false, "ticks": false, "grid": false, "labelPadding": 7, "labelFontSize": 10, "labelColor": "#131722", "labelFont": "Roboto", "values": [0, 1e-5, 1.5e-5, 2e-5, 2.5e-5, 3e-5, 3.5e-5, 4e-5, 4.5e-5, 5e-5, 5.5e-5, 6e-5, 6.5e-5, 7e-5, 7.5e-5, 8e-5, 8.5e-5, 9e-5, 9.5e-5], "labelExpr": "datum.value == 0 ? '0' : format(datum.value * 10000, '.2~f') + 'e-4'", "labelAlign": "left", "labelBaseline": "middle", "labelOffset": {"condition": {"test": "datum.value == 0", "value": -2.5}, "value": 0}, "labelBound": false, "labelOverlap": false}}
      }
    },
    {
      "mark": {"type": "point", "shape": "M -1 -0.8 L 0 0 L 1 -0.8", "size": 36, "filled": false, "stroke": "#2a2a2a", "strokeWidth": 1.1, "opacity": 1},
      "encoding": {
        "x": {"datum": 153.15, "type": "quantitative", "scale": {"domain": [-45.02, 219.19], "nice": false, "zero": false}, "axis": null},
        "y": {"datum": 0.810e-5, "type": "quantitative", "scale": {"domain": [-0.0434e-5, 9.702e-5], "nice": false, "zero": false}, "axis": {"orient": "right", "title": null, "domain": false, "ticks": false, "grid": false, "labelPadding": 7, "labelFontSize": 10, "labelColor": "#131722", "labelFont": "Roboto", "values": [0, 1e-5, 1.5e-5, 2e-5, 2.5e-5, 3e-5, 3.5e-5, 4e-5, 4.5e-5, 5e-5, 5.5e-5, 6e-5, 6.5e-5, 7e-5, 7.5e-5, 8e-5, 8.5e-5, 9e-5, 9.5e-5], "labelExpr": "datum.value == 0 ? '0' : format(datum.value * 10000, '.2~f') + 'e-4'", "labelAlign": "left", "labelBaseline": "middle", "labelOffset": {"condition": {"test": "datum.value == 0", "value": -2.5}, "value": 0}, "labelBound": false, "labelOverlap": false}}
      }
    },
    {
      "mark": {"type": "text", "text": "Shiba Inu · 12D · CRYPTO", "fontSize": 8.8, "color": "#131722", "align": "left", "baseline": "middle", "font": "Roboto"},
      "encoding": {
        "x": {"datum": -41.94, "type": "quantitative", "scale": {"domain": [-45.02, 219.19], "nice": false, "zero": false}, "axis": null},
        "y": {"datum": 9.62e-5, "type": "quantitative", "scale": {"domain": [-0.0434e-5, 9.702e-5], "nice": false, "zero": false}, "axis": {"orient": "right", "title": null, "domain": false, "ticks": false, "grid": false, "labelPadding": 7, "labelFontSize": 10, "labelColor": "#131722", "labelFont": "Roboto", "values": [0, 1e-5, 1.5e-5, 2e-5, 2.5e-5, 3e-5, 3.5e-5, 4e-5, 4.5e-5, 5e-5, 5.5e-5, 6e-5, 6.5e-5, 7e-5, 7.5e-5, 8e-5, 8.5e-5, 9e-5, 9.5e-5], "labelExpr": "datum.value == 0 ? '0' : format(datum.value * 10000, '.2~f') + 'e-4'", "labelAlign": "left", "labelBaseline": "middle", "labelOffset": {"condition": {"test": "datum.value == 0", "value": -2.5}, "value": 0}, "labelBound": false, "labelOverlap": false}}
      }
    },
    {
      "mark": {"type": "text", "text": "O", "fontSize": 9.5, "color": "#131722", "align": "left", "baseline": "middle", "font": "Roboto"},
      "encoding": {
        "x": {"datum": -16.6, "type": "quantitative", "scale": {"domain": [-45.02, 219.19], "nice": false, "zero": false}, "axis": null},
        "y": {"datum": 9.62e-5, "type": "quantitative", "scale": {"domain": [-0.0434e-5, 9.702e-5], "nice": false, "zero": false}, "axis": {"orient": "right", "title": null, "domain": false, "ticks": false, "grid": false, "labelPadding": 7, "labelFontSize": 10, "labelColor": "#131722", "labelFont": "Roboto", "values": [0, 1e-5, 1.5e-5, 2e-5, 2.5e-5, 3e-5, 3.5e-5, 4e-5, 4.5e-5, 5e-5, 5.5e-5, 6e-5, 6.5e-5, 7e-5, 7.5e-5, 8e-5, 8.5e-5, 9e-5, 9.5e-5], "labelExpr": "datum.value == 0 ? '0' : format(datum.value * 10000, '.2~f') + 'e-4'", "labelAlign": "left", "labelBaseline": "middle", "labelOffset": {"condition": {"test": "datum.value == 0", "value": -2.5}, "value": 0}, "labelBound": false, "labelOverlap": false}}
      }
    },
    {
      "mark": {"type": "text", "text": "0.55383e-5", "fontSize": 9.5, "color": "#22ab94", "align": "left", "baseline": "middle", "font": "Roboto"},
      "encoding": {
        "x": {"datum": -15.0, "type": "quantitative", "scale": {"domain": [-45.02, 219.19], "nice": false, "zero": false}, "axis": null},
        "y": {"datum": 9.62e-5, "type": "quantitative", "scale": {"domain": [-0.0434e-5, 9.702e-5], "nice": false, "zero": false}, "axis": {"orient": "right", "title": null, "domain": false, "ticks": false, "grid": false, "labelPadding": 7, "labelFontSize": 10, "labelColor": "#131722", "labelFont": "Roboto", "values": [0, 1e-5, 1.5e-5, 2e-5, 2.5e-5, 3e-5, 3.5e-5, 4e-5, 4.5e-5, 5e-5, 5.5e-5, 6e-5, 6.5e-5, 7e-5, 7.5e-5, 8e-5, 8.5e-5, 9e-5, 9.5e-5], "labelExpr": "datum.value == 0 ? '0' : format(datum.value * 10000, '.2~f') + 'e-4'", "labelAlign": "left", "labelBaseline": "middle", "labelOffset": {"condition": {"test": "datum.value == 0", "value": -2.5}, "value": 0}, "labelBound": false, "labelOverlap": false}}
      }
    },
    {
      "mark": {"type": "text", "text": "H", "fontSize": 9.5, "color": "#131722", "align": "left", "baseline": "middle", "font": "Roboto"},
      "encoding": {
        "x": {"datum": -1.18, "type": "quantitative", "scale": {"domain": [-45.02, 219.19], "nice": false, "zero": false}, "axis": null},
        "y": {"datum": 9.62e-5, "type": "quantitative", "scale": {"domain": [-0.0434e-5, 9.702e-5], "nice": false, "zero": false}, "axis": {"orient": "right", "title": null, "domain": false, "ticks": false, "grid": false, "labelPadding": 7, "labelFontSize": 10, "labelColor": "#131722", "labelFont": "Roboto", "values": [0, 1e-5, 1.5e-5, 2e-5, 2.5e-5, 3e-5, 3.5e-5, 4e-5, 4.5e-5, 5e-5, 5.5e-5, 6e-5, 6.5e-5, 7e-5, 7.5e-5, 8e-5, 8.5e-5, 9e-5, 9.5e-5], "labelExpr": "datum.value == 0 ? '0' : format(datum.value * 10000, '.2~f') + 'e-4'", "labelAlign": "left", "labelBaseline": "middle", "labelOffset": {"condition": {"test": "datum.value == 0", "value": -2.5}, "value": 0}, "labelBound": false, "labelOverlap": false}}
      }
    },
    {
      "mark": {"type": "text", "text": "0.60732e-5", "fontSize": 9.5, "color": "#22ab94", "align": "left", "baseline": "middle", "font": "Roboto"},
      "encoding": {
        "x": {"datum": 0.47, "type": "quantitative", "scale": {"domain": [-45.02, 219.19], "nice": false, "zero": false}, "axis": null},
        "y": {"datum": 9.62e-5, "type": "quantitative", "scale": {"domain": [-0.0434e-5, 9.702e-5], "nice": false, "zero": false}, "axis": {"orient": "right", "title": null, "domain": false, "ticks": false, "grid": false, "labelPadding": 7, "labelFontSize": 10, "labelColor": "#131722", "labelFont": "Roboto", "values": [0, 1e-5, 1.5e-5, 2e-5, 2.5e-5, 3e-5, 3.5e-5, 4e-5, 4.5e-5, 5e-5, 5.5e-5, 6e-5, 6.5e-5, 7e-5, 7.5e-5, 8e-5, 8.5e-5, 9e-5, 9.5e-5], "labelExpr": "datum.value == 0 ? '0' : format(datum.value * 10000, '.2~f') + 'e-4'", "labelAlign": "left", "labelBaseline": "middle", "labelOffset": {"condition": {"test": "datum.value == 0", "value": -2.5}, "value": 0}, "labelBound": false, "labelOverlap": false}}
      }
    },
    {
      "mark": {"type": "text", "text": "L", "fontSize": 9.5, "color": "#131722", "align": "left", "baseline": "middle", "font": "Roboto"},
      "encoding": {
        "x": {"datum": 13.03, "type": "quantitative", "scale": {"domain": [-45.02, 219.19], "nice": false, "zero": false}, "axis": null},
        "y": {"datum": 9.62e-5, "type": "quantitative", "scale": {"domain": [-0.0434e-5, 9.702e-5], "nice": false, "zero": false}, "axis": {"orient": "right", "title": null, "domain": false, "ticks": false, "grid": false, "labelPadding": 7, "labelFontSize": 10, "labelColor": "#131722", "labelFont": "Roboto", "values": [0, 1e-5, 1.5e-5, 2e-5, 2.5e-5, 3e-5, 3.5e-5, 4e-5, 4.5e-5, 5e-5, 5.5e-5, 6e-5, 6.5e-5, 7e-5, 7.5e-5, 8e-5, 8.5e-5, 9e-5, 9.5e-5], "labelExpr": "datum.value == 0 ? '0' : format(datum.value * 10000, '.2~f') + 'e-4'", "labelAlign": "left", "labelBaseline": "middle", "labelOffset": {"condition": {"test": "datum.value == 0", "value": -2.5}, "value": 0}, "labelBound": false, "labelOverlap": false}}
      }
    },
    {
      "mark": {"type": "text", "text": "0.52295e-5", "fontSize": 9.5, "color": "#22ab94", "align": "left", "baseline": "middle", "font": "Roboto"},
      "encoding": {
        "x": {"datum": 14.45, "type": "quantitative", "scale": {"domain": [-45.02, 219.19], "nice": false, "zero": false}, "axis": null},
        "y": {"datum": 9.62e-5, "type": "quantitative", "scale": {"domain": [-0.0434e-5, 9.702e-5], "nice": false, "zero": false}, "axis": {"orient": "right", "title": null, "domain": false, "ticks": false, "grid": false, "labelPadding": 7, "labelFontSize": 10, "labelColor": "#131722", "labelFont": "Roboto", "values": [0, 1e-5, 1.5e-5, 2e-5, 2.5e-5, 3e-5, 3.5e-5, 4e-5, 4.5e-5, 5e-5, 5.5e-5, 6e-5, 6.5e-5, 7e-5, 7.5e-5, 8e-5, 8.5e-5, 9e-5, 9.5e-5], "labelExpr": "datum.value == 0 ? '0' : format(datum.value * 10000, '.2~f') + 'e-4'", "labelAlign": "left", "labelBaseline": "middle", "labelOffset": {"condition": {"test": "datum.value == 0", "value": -2.5}, "value": 0}, "labelBound": false, "labelOverlap": false}}
      }
    },
    {
      "mark": {"type": "text", "text": "C", "fontSize": 9.5, "color": "#131722", "align": "left", "baseline": "middle", "font": "Roboto"},
      "encoding": {
        "x": {"datum": 27.25, "type": "quantitative", "scale": {"domain": [-45.02, 219.19], "nice": false, "zero": false}, "axis": null},
        "y": {"datum": 9.62e-5, "type": "quantitative", "scale": {"domain": [-0.0434e-5, 9.702e-5], "nice": false, "zero": false}, "axis": {"orient": "right", "title": null, "domain": false, "ticks": false, "grid": false, "labelPadding": 7, "labelFontSize": 10, "labelColor": "#131722", "labelFont": "Roboto", "values": [0, 1e-5, 1.5e-5, 2e-5, 2.5e-5, 3e-5, 3.5e-5, 4e-5, 4.5e-5, 5e-5, 5.5e-5, 6e-5, 6.5e-5, 7e-5, 7.5e-5, 8e-5, 8.5e-5, 9e-5, 9.5e-5], "labelExpr": "datum.value == 0 ? '0' : format(datum.value * 10000, '.2~f') + 'e-4'", "labelAlign": "left", "labelBaseline": "middle", "labelOffset": {"condition": {"test": "datum.value == 0", "value": -2.5}, "value": 0}, "labelBound": false, "labelOverlap": false}}
      }
    },
    {
      "mark": {"type": "text", "text": "0.59432e-5", "fontSize": 9.5, "color": "#22ab94", "align": "left", "baseline": "middle", "font": "Roboto"},
      "encoding": {
        "x": {"datum": 28.91, "type": "quantitative", "scale": {"domain": [-45.02, 219.19], "nice": false, "zero": false}, "axis": null},
        "y": {"datum": 9.62e-5, "type": "quantitative", "scale": {"domain": [-0.0434e-5, 9.702e-5], "nice": false, "zero": false}, "axis": {"orient": "right", "title": null, "domain": false, "ticks": false, "grid": false, "labelPadding": 7, "labelFontSize": 10, "labelColor": "#131722", "labelFont": "Roboto", "values": [0, 1e-5, 1.5e-5, 2e-5, 2.5e-5, 3e-5, 3.5e-5, 4e-5, 4.5e-5, 5e-5, 5.5e-5, 6e-5, 6.5e-5, 7e-5, 7.5e-5, 8e-5, 8.5e-5, 9e-5, 9.5e-5], "labelExpr": "datum.value == 0 ? '0' : format(datum.value * 10000, '.2~f') + 'e-4'", "labelAlign": "left", "labelBaseline": "middle", "labelOffset": {"condition": {"test": "datum.value == 0", "value": -2.5}, "value": 0}, "labelBound": false, "labelOverlap": false}}
      }
    },
    {
      "mark": {"type": "text", "text": "+0.4054e-6 (+7.32%)", "fontSize": 9.5, "color": "#22ab94", "align": "left", "baseline": "middle", "font": "Roboto"},
      "encoding": {
        "x": {"datum": 41.94, "type": "quantitative", "scale": {"domain": [-45.02, 219.19], "nice": false, "zero": false}, "axis": null},
        "y": {"datum": 9.62e-5, "type": "quantitative", "scale": {"domain": [-0.0434e-5, 9.702e-5], "nice": false, "zero": false}, "axis": {"orient": "right", "title": null, "domain": false, "ticks": false, "grid": false, "labelPadding": 7, "labelFontSize": 10, "labelColor": "#131722", "labelFont": "Roboto", "values": [0, 1e-5, 1.5e-5, 2e-5, 2.5e-5, 3e-5, 3.5e-5, 4e-5, 4.5e-5, 5e-5, 5.5e-5, 6e-5, 6.5e-5, 7e-5, 7.5e-5, 8e-5, 8.5e-5, 9e-5, 9.5e-5], "labelExpr": "datum.value == 0 ? '0' : format(datum.value * 10000, '.2~f') + 'e-4'", "labelAlign": "left", "labelBaseline": "middle", "labelOffset": {"condition": {"test": "datum.value == 0", "value": -2.5}, "value": 0}, "labelBound": false, "labelOverlap": false}}
      }
    },
    {
      "mark": {"type": "rect", "color": "#4caf50", "cornerRadius": 1.5},
      "encoding": {
        "x": {"datum": 208.29, "type": "quantitative", "scale": {"domain": [-45.02, 219.19], "nice": false, "zero": false}, "axis": null},
        "x2": {"datum": 218.96},
        "y": {"datum": 0.7085e-5, "type": "quantitative", "scale": {"domain": [-0.0434e-5, 9.702e-5], "nice": false, "zero": false}, "axis": {"orient": "right", "title": null, "domain": false, "ticks": false, "grid": false, "labelPadding": 7, "labelFontSize": 10, "labelColor": "#131722", "labelFont": "Roboto", "values": [0, 1e-5, 1.5e-5, 2e-5, 2.5e-5, 3e-5, 3.5e-5, 4e-5, 4.5e-5, 5e-5, 5.5e-5, 6e-5, 6.5e-5, 7e-5, 7.5e-5, 8e-5, 8.5e-5, 9e-5, 9.5e-5], "labelExpr": "datum.value == 0 ? '0' : format(datum.value * 10000, '.2~f') + 'e-4'", "labelAlign": "left", "labelBaseline": "middle", "labelOffset": {"condition": {"test": "datum.value == 0", "value": -2.5}, "value": 0}, "labelBound": false, "labelOverlap": false}},
        "y2": {"datum": 0.4916e-5}
      }
    },
    {
      "mark": {"type": "rect", "color": "#4caf50", "cornerRadius": 1.5},
      "encoding": {
        "x": {"datum": 219.67, "type": "quantitative", "scale": {"domain": [-45.02, 219.19], "nice": false, "zero": false}, "axis": null},
        "x2": {"datum": 233.41},
        "y": {"datum": 0.7085e-5, "type": "quantitative", "scale": {"domain": [-0.0434e-5, 9.702e-5], "nice": false, "zero": false}, "axis": {"orient": "right", "title": null, "domain": false, "ticks": false, "grid": false, "labelPadding": 7, "labelFontSize": 10, "labelColor": "#131722", "labelFont": "Roboto", "values": [0, 1e-5, 1.5e-5, 2e-5, 2.5e-5, 3e-5, 3.5e-5, 4e-5, 4.5e-5, 5e-5, 5.5e-5, 6e-5, 6.5e-5, 7e-5, 7.5e-5, 8e-5, 8.5e-5, 9e-5, 9.5e-5], "labelExpr": "datum.value == 0 ? '0' : format(datum.value * 10000, '.2~f') + 'e-4'", "labelAlign": "left", "labelBaseline": "middle", "labelOffset": {"condition": {"test": "datum.value == 0", "value": -2.5}, "value": 0}, "labelBound": false, "labelOverlap": false}},
        "y2": {"datum": 0.3615e-5}
      }
    },
    {
      "mark": {"type": "text", "text": "SHIBUSD", "fontSize": 9.5, "color": "#ffffff", "align": "center", "baseline": "middle", "font": "Roboto"},
      "encoding": {
        "x": {"datum": 213.62, "type": "quantitative", "scale": {"domain": [-45.02, 219.19], "nice": false, "zero": false}, "axis": null},
        "y": {"datum": 0.60e-5, "type": "quantitative", "scale": {"domain": [-0.0434e-5, 9.702e-5], "nice": false, "zero": false}, "axis": {"orient": "right", "title": null, "domain": false, "ticks": false, "grid": false, "labelPadding": 7, "labelFontSize": 10, "labelColor": "#131722", "labelFont": "Roboto", "values": [0, 1e-5, 1.5e-5, 2e-5, 2.5e-5, 3e-5, 3.5e-5, 4e-5, 4.5e-5, 5e-5, 5.5e-5, 6e-5, 6.5e-5, 7e-5, 7.5e-5, 8e-5, 8.5e-5, 9e-5, 9.5e-5], "labelExpr": "datum.value == 0 ? '0' : format(datum.value * 10000, '.2~f') + 'e-4'", "labelAlign": "left", "labelBaseline": "middle", "labelOffset": {"condition": {"test": "datum.value == 0", "value": -2.5}, "value": 0}, "labelBound": false, "labelOverlap": false}}
      }
    },
    {
      "mark": {"type": "text", "text": "0.59432e-5", "fontSize": 9.5, "color": "#ffffff", "align": "left", "baseline": "middle", "font": "Roboto"},
      "encoding": {
        "x": {"datum": 220.85, "type": "quantitative", "scale": {"domain": [-45.02, 219.19], "nice": false, "zero": false}, "axis": null},
        "y": {"datum": 0.5943e-5, "type": "quantitative", "scale": {"domain": [-0.0434e-5, 9.702e-5], "nice": false, "zero": false}, "axis": {"orient": "right", "title": null, "domain": false, "ticks": false, "grid": false, "labelPadding": 7, "labelFontSize": 10, "labelColor": "#131722", "labelFont": "Roboto", "values": [0, 1e-5, 1.5e-5, 2e-5, 2.5e-5, 3e-5, 3.5e-5, 4e-5, 4.5e-5, 5e-5, 5.5e-5, 6e-5, 6.5e-5, 7e-5, 7.5e-5, 8e-5, 8.5e-5, 9e-5, 9.5e-5], "labelExpr": "datum.value == 0 ? '0' : format(datum.value * 10000, '.2~f') + 'e-4'", "labelAlign": "left", "labelBaseline": "middle", "labelOffset": {"condition": {"test": "datum.value == 0", "value": -2.5}, "value": 0}, "labelBound": false, "labelOverlap": false}}
      }
    },
    {
      "mark": {"type": "text", "text": "3d 9h", "fontSize": 9.5, "color": "#ffffff", "align": "left", "baseline": "middle", "font": "Roboto"},
      "encoding": {
        "x": {"datum": 220.85, "type": "quantitative", "scale": {"domain": [-45.02, 219.19], "nice": false, "zero": false}, "axis": null},
        "y": {"datum": 0.448e-5, "type": "quantitative", "scale": {"domain": [-0.0434e-5, 9.702e-5], "nice": false, "zero": false}, "axis": {"orient": "right", "title": null, "domain": false, "ticks": false, "grid": false, "labelPadding": 7, "labelFontSize": 10, "labelColor": "#131722", "labelFont": "Roboto", "values": [0, 1e-5, 1.5e-5, 2e-5, 2.5e-5, 3e-5, 3.5e-5, 4e-5, 4.5e-5, 5e-5, 5.5e-5, 6e-5, 6.5e-5, 7e-5, 7.5e-5, 8e-5, 8.5e-5, 9e-5, 9.5e-5], "labelExpr": "datum.value == 0 ? '0' : format(datum.value * 10000, '.2~f') + 'e-4'", "labelAlign": "left", "labelBaseline": "middle", "labelOffset": {"condition": {"test": "datum.value == 0", "value": -2.5}, "value": 0}, "labelBound": false, "labelOverlap": false}}
      }
    }
  ]
}
